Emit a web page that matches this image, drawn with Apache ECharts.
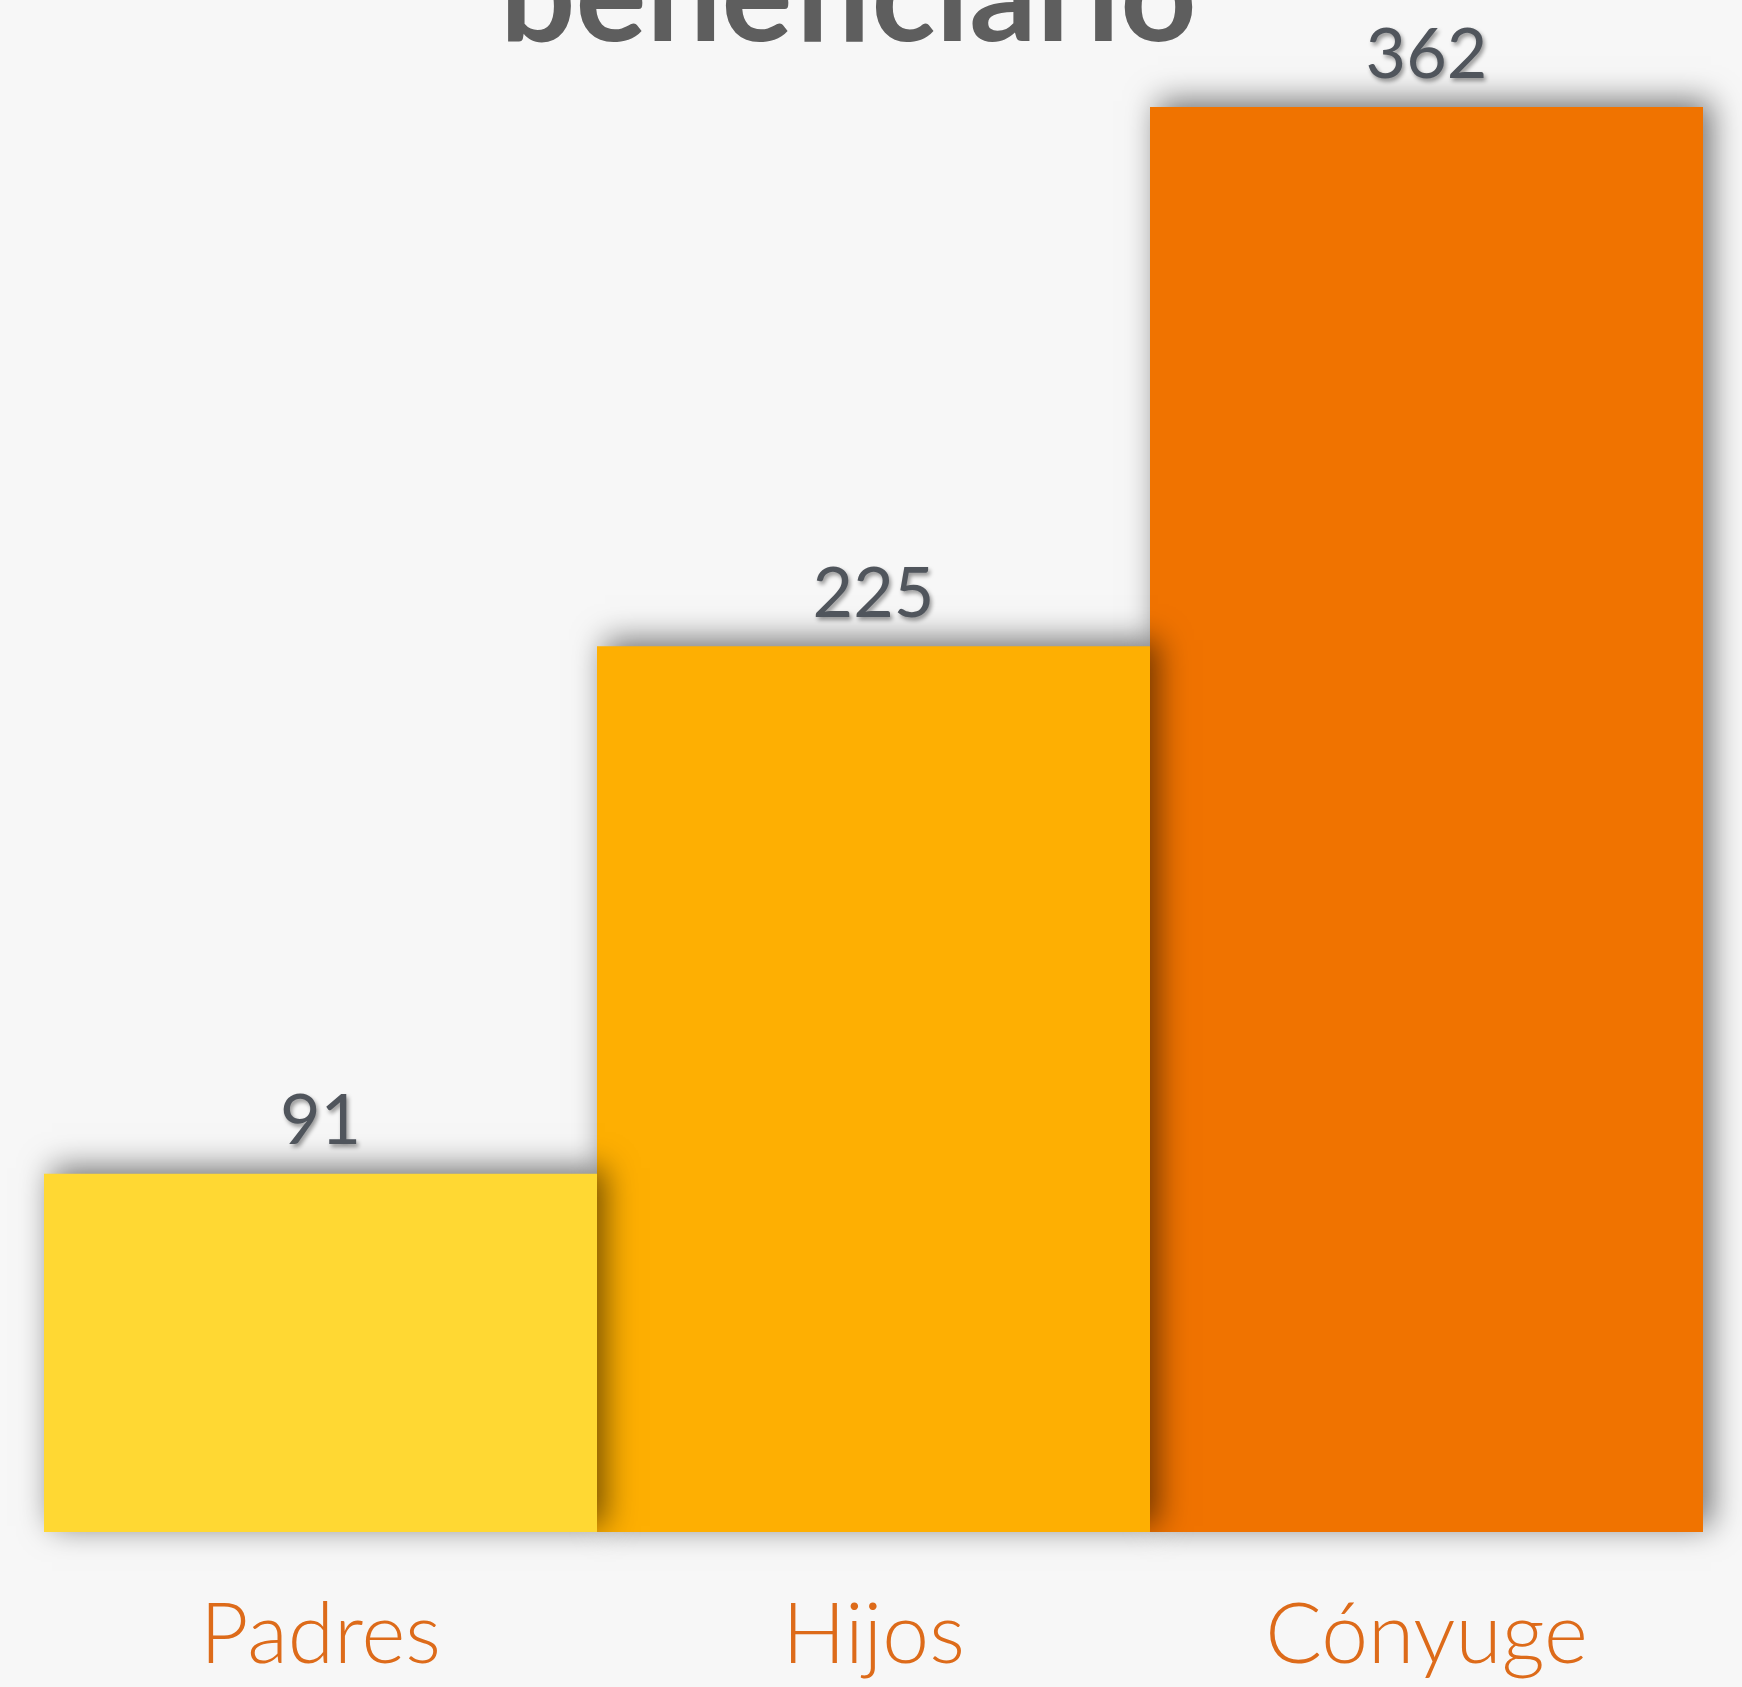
<!DOCTYPE html>
<html>
<head>
<meta charset="utf-8">
<script src="https://cdn.jsdelivr.net/npm/echarts@6/dist/echarts.min.js"></script>
<style>
  html, body { margin: 0; padding: 0; background: #f7f7f7; }
  #chart { width: 1742px; height: 1687px; }
</style>
</head>
<body>
<div id="chart"></div>
<script>
  // datos del gráfico
  var categories = ['Padres', 'Hijos', 'Cónyuge'];
  var values = [91, 225, 362];
  var barColors = ['#ffd833', '#feaf02', '#f07300'];

  var myChart = echarts.init(document.getElementById('chart'));

  // una serie por barra para que la sombra de cada barra caiga sobre la siguiente
  var series = categories.map(function (name, i) {
    return {
      name: name,
      type: 'bar',
      barWidth: '100%',
      barGap: '-100%',
      z: 10 - i,
      data: values.map(function (v, j) { return j === i ? v : '-'; }),
      itemStyle: {
        color: barColors[i],
        shadowColor: 'rgba(0,0,0,0.55)',
        shadowBlur: 30,
        shadowOffsetX: 8,
        shadowOffsetY: -6
      },
      label: {
        show: true,
        position: 'top',
        distance: 17,
        color: '#50555c',
        fontFamily: 'Lato',
        fontSize: 70,
        textShadowColor: 'rgba(0,0,0,0.4)',
        textShadowBlur: 4,
        textShadowOffsetX: 2,
        textShadowOffsetY: 3
      }
    };
  });

  myChart.setOption({
    backgroundColor: '#f7f7f7',
    animation: false,
    grid: { left: 44, right: 39, top: 107, bottom: 155 },
    graphic: [{
      type: 'text',
      left: 500,
      top: -68,
      style: {
        text: 'beneficiario',
        fill: '#5e5e5e',
        font: 'bold 133px Lato'
      }
    }],
    xAxis: {
      type: 'category',
      data: categories,
      axisLine: { show: false },
      axisTick: { show: false },
      axisLabel: {
        margin: 62,
        color: '#dd6b1a',
        fontFamily: 'Lato',
        fontWeight: 300,
        fontSize: 84
      }
    },
    yAxis: {
      type: 'value',
      min: 0,
      max: 362,
      show: false
    },
    series: series
  });
</script>
</body>
</html>
